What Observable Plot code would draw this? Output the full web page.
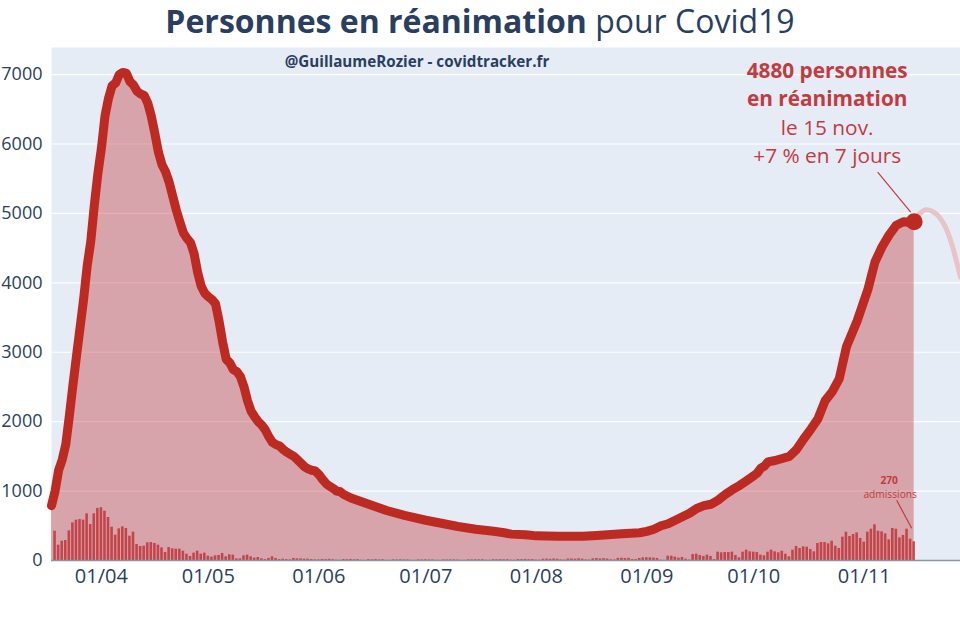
<!DOCTYPE html>
<html><head><meta charset="utf-8">
<script src="https://cdn.jsdelivr.net/npm/d3@7"></script>
<script src="https://cdn.jsdelivr.net/npm/@observablehq/plot@0.6"></script>
<style>
body{margin:0;background:#fff;font-family:"Open Sans",sans-serif;}
#title{height:40px;text-align:center;color:#2a3f5f;font-size:32px;line-height:42px;white-space:nowrap;overflow:visible;}
#chart svg{display:block;}
</style></head><body>
<div id="title"><b>Personnes en réanimation</b> pour Covid19</div>
<div id="chart"></div>
<script>
// ICU occupancy (personnes en réanimation)
const lineDates = ["2020-03-18","2020-03-19","2020-03-20","2020-03-21","2020-03-22","2020-03-23","2020-03-24","2020-03-25","2020-03-26","2020-03-27","2020-03-28","2020-03-29","2020-03-30","2020-03-31",
"2020-04-01","2020-04-02","2020-04-03","2020-04-04","2020-04-05","2020-04-06","2020-04-07","2020-04-08","2020-04-09","2020-04-10","2020-04-11","2020-04-12","2020-04-13","2020-04-14","2020-04-15","2020-04-16","2020-04-17","2020-04-18","2020-04-19","2020-04-20","2020-04-21","2020-04-22","2020-04-23","2020-04-24","2020-04-25","2020-04-26","2020-04-27","2020-04-28","2020-04-29","2020-04-30",
"2020-05-01","2020-05-02","2020-05-03","2020-05-04","2020-05-05","2020-05-06","2020-05-07","2020-05-08","2020-05-09","2020-05-10","2020-05-11","2020-05-12","2020-05-13","2020-05-14","2020-05-15","2020-05-16","2020-05-17","2020-05-18","2020-05-19","2020-05-20","2020-05-21","2020-05-22","2020-05-23","2020-05-24","2020-05-25","2020-05-26","2020-05-27","2020-05-28","2020-05-29","2020-05-30","2020-05-31",
"2020-06-01","2020-06-02","2020-06-03","2020-06-04","2020-06-05","2020-06-06","2020-06-07","2020-06-08","2020-06-10","2020-06-15","2020-06-20","2020-06-25",
"2020-07-01","2020-07-05","2020-07-10","2020-07-15","2020-07-20","2020-07-23","2020-07-25","2020-07-29",
"2020-08-01","2020-08-07","2020-08-14","2020-08-18","2020-08-21","2020-08-25","2020-08-30",
"2020-09-01","2020-09-03","2020-09-05","2020-09-07","2020-09-09","2020-09-11","2020-09-13","2020-09-15","2020-09-17","2020-09-19","2020-09-21","2020-09-23","2020-09-25","2020-09-27","2020-09-29",
"2020-10-01","2020-10-02","2020-10-03","2020-10-04","2020-10-05","2020-10-07","2020-10-09","2020-10-11","2020-10-13","2020-10-15","2020-10-17","2020-10-19","2020-10-21","2020-10-23","2020-10-25","2020-10-27","2020-10-30",
"2020-11-02","2020-11-04","2020-11-06","2020-11-08","2020-11-10","2020-11-12","2020-11-14","2020-11-15"];
const lineValues = [790,1000,1300,1450,1670,2080,2520,2940,3350,3760,4240,4590,5110,5570,
5940,6400,6660,6840,6880,7000,7030,7020,6900,6850,6760,6720,6700,6590,6400,6150,5880,5700,5600,5450,5250,5050,4880,4720,4640,4580,4420,4150,3950,3850,
3800,3760,3700,3450,3150,2900,2850,2750,2720,2650,2500,2300,2150,2070,2000,1950,1880,1780,1700,1670,1650,1600,1560,1530,1500,1450,1400,1350,1320,1300,1290,
1240,1170,1110,1070,1040,1000,990,950,900,810,720,650,
580,540,490,450,420,400,380,370,
355,350,350,360,370,385,400,
420,450,500,530,580,630,680,750,790,810,870,950,1020,1080,1150,
1220,1260,1330,1360,1420,1440,1470,1500,1600,1750,1890,2040,2300,2430,2620,3080,3450,
3900,4300,4520,4690,4830,4880,4870,4880];

// Daily ICU admissions, from 2020-03-19 to 2020-11-15
const admissionsStart = "2020-03-19";
const admissionValues = [422,221,278,288,427,542,581,590,581,672,518,672,750,760,710,619,480,365,456,485,461,350,408,230,202,206,254,259,245,221,182,115,187,168,163,163,134,91,58,106,134,
91,106,62,48,67,72,101,53,82,77,24,24,67,77,53,34,43,24,14,29,53,29,14,19,14,10,29,24,24,19,19,14,10,10,
15,13,17,12,5,4,14,12,15,11,13,4,3,12,10,13,9,11,3,3,10,9,11,8,9,3,2,9,8,10,
8,9,3,2,9,8,10,9,7,3,2,10,9,11,10,12,4,3,12,11,13,10,12,5,4,14,13,15,12,14,6,
5,18,20,17,22,18,9,6,21,22,19,25,20,9,7,24,28,23,27,22,11,8,30,33,28,31,14,14,29,38,40,38,34,29,5,3,
62,62,48,34,43,19,8,86,91,72,58,77,58,14,120,110,115,115,120,72,38,
120,149,125,120,115,77,67,120,149,
125,110,134,91,53,149,202,173,197,192,158,125,245,259,259,240,278,206,173,336,408,346,374,398,317,264,408,451,514,422,413,384,298,461,451,326,360,451,307,270];

// Faded continuation curve after the last point
const ghostDates = ["2020-11-15","2020-11-16T12:00","2020-11-18","2020-11-20","2020-11-22","2020-11-24","2020-11-26","2020-11-28"];
const ghostValues = [4880,4990,5050,5030,4950,4780,4480,4080];

const yTicks = [0,1000,2000,3000,4000,5000,6000,7000];
const xTickLabels = ["2020-04-01","2020-05-01","2020-06-01","2020-07-01","2020-08-01","2020-09-01","2020-10-01","2020-11-01"];
const xDomain = ["2020-03-18","2020-11-28"];
const credit = "@GuillaumeRozier - covidtracker.fr";

const DAY = 86400000;
const line = lineDates.map((d,i)=>({date:new Date(d), value:lineValues[i]}));
const start = new Date(admissionsStart);
const bars = admissionValues.map((v,i)=>({date:new Date(+start + i*DAY), value:v}));
const ghost = ghostDates.map((d,i)=>({date:new Date(d.length>10 ? d+"Z" : d), value:ghostValues[i]}));
const last = line[line.length-1];
const lastBar = bars[bars.length-1];

const red = "#bd2a22";
const annot = "#c23b3e";

const chart = Plot.plot({
  width: 960, height: 578,
  marginTop: 7, marginBottom: 58, marginLeft: 51, marginRight: 0,
  style: {fontFamily: "'Open Sans', sans-serif", fontSize: "18px", color: "#2a3f5f", background: "white"},
  x: {type: "utc", domain: xDomain.map(d=>new Date(d)), ticks: xTickLabels.map(d=>new Date(d)), tickFormat: d3.utcFormat("%d/%m"), tickSize: 0, tickPadding: 8, label: null},
  y: {domain: [0, 7390], ticks: yTicks, tickFormat: "d", tickSize: 0, tickPadding: 9, label: null},
  marks: [
    Plot.frame({fill: "#e5ecf6", stroke: "none"}),
    Plot.ruleY(yTicks.filter(v=>v>0), {stroke: "white", strokeWidth: 1.2}),
    Plot.areaY(line, {x: "date", y: "value", fill: "rgb(192,57,57)", fillOpacity: 0.4}),
    Plot.rect(bars, {x1: d=>new Date(+d.date - DAY/2), x2: d=>new Date(+d.date + DAY/2), y1: 0, y2: "value", fill: "#c0353a", fillOpacity: 0.85, insetLeft: 0.5, insetRight: 0.5}),
    Plot.ruleY([0], {stroke: "#8c96a3", strokeWidth: 1.5}),
    Plot.line(ghost, {x: "date", y: "value", stroke: "#e8c3c7", strokeWidth: 5, curve: "natural"}),
    Plot.line(line, {x: "date", y: "value", stroke: red, strokeWidth: 9, strokeLinejoin: "round", strokeLinecap: "round"}),
    Plot.dot([last], {x: "date", y: "value", r: 8.5, fill: red}),
    Plot.text([credit], {frameAnchor: "top", dx: -89, dy: 15, fontWeight: "bold", fontSize: 15.2, fill: "#2a3f5f", lineAnchor: "middle"}),
    Plot.text([last], {x: "date", y: "value", text: d=>`${d.value} personnes`, dx: -87, dy: -150.5, fontWeight: "bold", fontSize: 20.8, fill: annot, lineAnchor: "middle"}),
    Plot.text([last], {x: "date", y: "value", text: d=>"en réanimation", dx: -87, dy: -122, fontWeight: "bold", fontSize: 20.8, fill: annot, lineAnchor: "middle"}),
    Plot.text([last], {x: "date", y: "value", text: d=>"le 15 nov.", dx: -87, dy: -93.5, fontSize: 20.8, fill: annot, lineAnchor: "middle"}),
    Plot.text([last], {x: "date", y: "value", text: d=>"+7 % en 7 jours", dx: -87, dy: -65, fontSize: 20.8, fill: annot, lineAnchor: "middle"}),
    Plot.text([lastBar], {x: "date", y: "value", text: d=>String(d.value), dx: -25, dy: -61, fontWeight: "bold", fontSize: 10.2, fill: annot, lineAnchor: "middle"}),
    Plot.text([lastBar], {x: "date", y: "value", text: d=>"admissions", dx: -24, dy: -47, fontSize: 10.2, fill: annot, lineAnchor: "middle"})
  ]
});
document.getElementById("chart").appendChild(chart);

// larger date labels on the x axis
d3.select(chart).selectAll('g[aria-label^="x-axis"]').attr("font-size", 20);

// annotation pointer lines, positioned through the plot's scales
const sx = chart.scale("x"), sy = chart.scale("y");
const svg = d3.select(chart);
const px = sx.apply(last.date), py = sy.apply(last.value);
svg.append("line").attr("x1", px-36).attr("y1", py-49).attr("x2", px-3).attr("y2", py-9).attr("stroke", annot).attr("stroke-width", 1.2);
const bx = sx.apply(lastBar.date), by = sy.apply(lastBar.value);
svg.append("line").attr("x1", bx-17).attr("y1", by-41).attr("x2", bx-2).attr("y2", by-13).attr("stroke", annot).attr("stroke-width", 1.2);
</script></body></html>
